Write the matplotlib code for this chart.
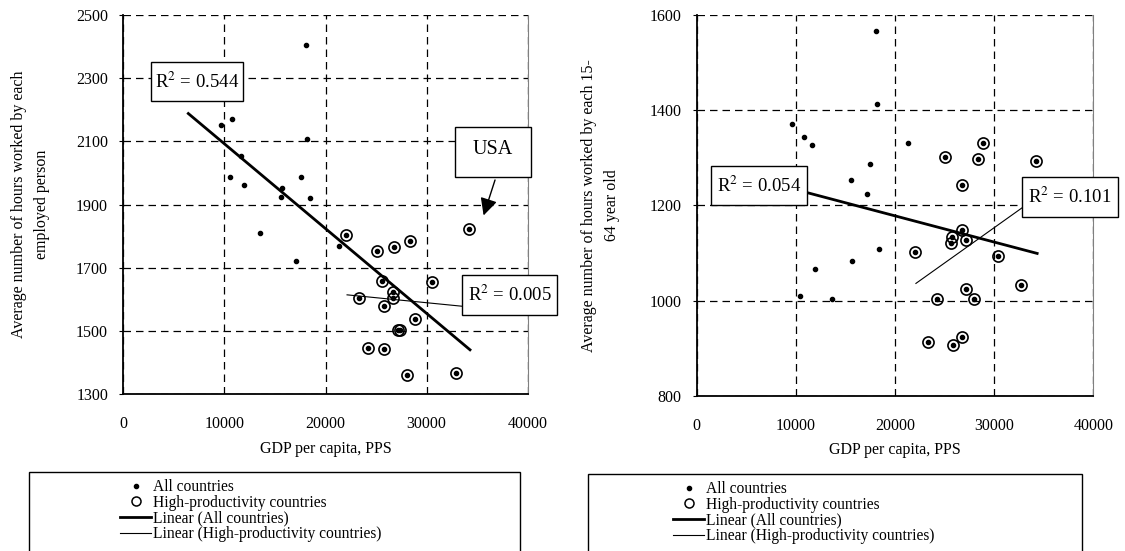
import matplotlib
matplotlib.use("Agg")
import matplotlib.pyplot as plt
from matplotlib.patches import Rectangle
from matplotlib.lines import Line2D

plt.rcParams['font.family'] = ['Liberation Serif', 'DejaVu Serif']
plt.rcParams['font.size'] = 11
plt.rcParams['mathtext.fontset'] = 'stix'

# --------------------------------------------------------------
# Panel 1: hours worked by each employed person
gdp_other_1 = [18070, 9660, 10780, 18170, 11610, 10520, 11970, 17580, 15730,
               15630, 18430, 13550, 21330, 17080]
hours_other_1 = [2404, 2151, 2170, 2107, 2052, 1986, 1961, 1986, 1953,
                 1925, 1920, 1810, 1770, 1722]
gdp_high_1 = [22060, 25060, 26770, 28360, 34190, 30500, 25590, 26710, 26710,
              23280, 25820, 28850, 27150, 27350, 24240, 25820, 28030, 32940]
hours_high_1 = [1803, 1754, 1764, 1786, 1822, 1654, 1657, 1624, 1603,
                1605, 1580, 1539, 1503, 1503, 1447, 1444, 1360, 1367]
# trend lines (end points)
trend_all_1_x = [6430, 34290]
trend_all_1_y = [2188, 1440]
trend_high_1_x = [22130, 33800]
trend_high_1_y = [1614, 1577]
r2_1 = ["R$^2$ = 0.544", "R$^2$ = 0.005"]
yticks_1 = [1300, 1500, 1700, 1900, 2100, 2300, 2500]
ylabel_1 = "Average number of hours worked by each\nemployed person"

# --------------------------------------------------------------
# Panel 2: hours worked by each 15-64 year old
gdp_other_2 = [18040, 18180, 9640, 10820, 11620, 21270, 17500, 15590, 17170,
               18410, 15690, 11960, 10450, 13640]
hours_other_2 = [1566, 1414, 1370, 1344, 1326, 1330, 1287, 1253, 1223,
                 1108, 1084, 1066, 1010, 1003]
gdp_high_2 = [28890, 25000, 28390, 34200, 26710, 26710, 25800, 27150, 25670,
              22040, 30440, 32720, 27180, 24190, 27950, 23320, 25810, 26710]
hours_high_2 = [1330, 1301, 1297, 1293, 1243, 1148, 1134, 1127, 1120,
                1101, 1094, 1032, 1024, 1003, 1003, 912, 907, 924]
trend_all_2_x = [11090, 34340]
trend_all_2_y = [1227, 1099]
trend_high_2_x = [22110, 33100]
trend_high_2_y = [1036, 1199]
r2_2 = ["R$^2$ = 0.054", "R$^2$ = 0.101"]
yticks_2 = [800, 1000, 1200, 1400, 1600]
ylabel_2 = "Average number of hours worked by each 15-\n64 year old"

xticks = [0, 10000, 20000, 30000, 40000]
legend_labels = ["All countries", "High-productivity countries",
                 "Linear (All countries)", "Linear (High-productivity countries)"]


def text_box(ax, x0, y0, x1, y1, txt, ty=None, size=13.5):
    # white box with black border, drawn in data coordinates
    r = Rectangle((x0, y0), x1 - x0, y1 - y0, facecolor='white',
                  edgecolor='black', lw=1, clip_on=False, zorder=6)
    ax.add_patch(r)
    if ty is None:
        ty = (y0 + y1) / 2
    ax.text((x0 + x1) / 2, ty, txt, ha='center', va='center', fontsize=size,
            zorder=7, clip_on=False)


def panel(ax, gx_o, hy_o, gx_h, hy_h, tax, tay, thx, thy, yticks, ylabel, lab_x):
    ax.plot(gx_o + gx_h, hy_o + hy_h, 'o', color='black', ms=3, zorder=4)
    ax.plot(gx_h, hy_h, 'o', mfc='none', mec='black', mew=1.2, ms=8, zorder=4)
    ax.plot(tax, tay, color='black', lw=2, zorder=5)
    ax.plot(thx, thy, color='black', lw=0.8, zorder=5)

    ax.set_xlim(0, 40000)
    ax.set_ylim(yticks[0], yticks[-1])
    ax.set_xticks(xticks)
    ax.set_yticks(yticks)
    ax.grid(True, color='black', ls=(0, (6, 4)), lw=0.9)
    ax.set_axisbelow(True)
    ax.tick_params(axis='x', length=0, pad=16, labelsize=11.5)
    ax.tick_params(axis='y', length=3, direction='out', pad=8, labelsize=11.5)

    for s in ['left', 'bottom']:
        ax.spines[s].set_linewidth(1.3)
    ax.spines['top'].set_visible(False)
    ax.spines['right'].set_color('#808080')

    ax.set_xlabel("GDP per capita, PPS", fontsize=11.5, labelpad=6)
    ax.set_ylabel(ylabel, fontsize=11.5, linespacing=1.6)
    ax.yaxis.set_label_coords(lab_x, 0.5)


fig = plt.figure(figsize=(11.25, 5.51), dpi=100)
ax1 = fig.add_axes([0.1096, 0.2849, 0.3595, 0.6879])
ax2 = fig.add_axes([0.6193, 0.2818, 0.3525, 0.6910])

panel(ax1, gdp_other_1, hours_other_1, gdp_high_1, hours_high_1,
      trend_all_1_x, trend_all_1_y, trend_high_1_x, trend_high_1_y,
      yticks_1, ylabel_1, -0.181)
panel(ax2, gdp_other_2, hours_other_2, gdp_high_2, hours_high_2,
      trend_all_2_x, trend_all_2_y, trend_high_2_x, trend_high_2_y,
      yticks_2, ylabel_2, -0.193)

# labels on panel 1
text_box(ax1, 2710, 2228, 11800, 2350, r2_1[0])
text_box(ax1, 33470, 1551, 42900, 1677, r2_1[1])
text_box(ax1, 32840, 1988, 40300, 2145, "USA", ty=2075, size=14.5)
ax1.annotate("", xy=(35550, 1857), xytext=(36850, 1986),
             arrowprops=dict(arrowstyle='-|>', color='black', lw=1,
                             mutation_scale=26), zorder=7)

# labels on panel 2
text_box(ax2, 1440, 1201, 11090, 1283, r2_2[0])
text_box(ax2, 32820, 1175, 42500, 1259, r2_2[1])

# legends below each panel
handles = [
    Line2D([], [], marker='o', color='black', ms=3, ls='none'),
    Line2D([], [], marker='o', mfc='none', mec='black', mew=1.1, ms=6.5, ls='none'),
    Line2D([], [], color='black', lw=2),
    Line2D([], [], color='black', lw=0.8),
]
for bx, bw, top, hx in [(29, 491, 472, 120), (588, 494, 474, 673)]:
    fig.patches.append(Rectangle((bx / 1125, -0.05), bw / 1125,
                                 1 - top / 551 + 0.05, transform=fig.transFigure,
                                 facecolor='white', edgecolor='black', lw=1))
    fig.legend(handles, legend_labels, loc='upper left',
               bbox_to_anchor=(hx / 1125, 1 - (top + 7) / 551),
               frameon=False, borderpad=0, borderaxespad=0, fontsize=11.2,
               handlelength=2.0, handletextpad=0.15, labelspacing=-0.02)

fig.savefig("out.png", dpi=100)
